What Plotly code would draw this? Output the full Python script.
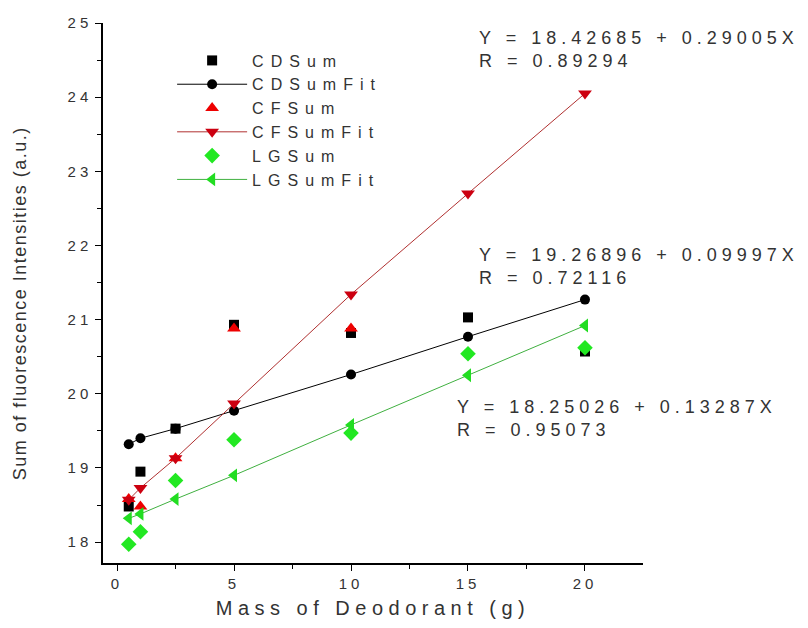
import plotly.graph_objects as go

mass = [0.5, 1, 2.5, 5, 10, 15, 20]

cd_sum = [18.48, 18.95, 19.53, 20.93, 20.82, 21.03, 20.57]
cd_fit = [19.32, 19.40, 19.53, 19.77, 20.26, 20.77, 21.27]

cf_sum = [18.58, 18.48, 19.13, 20.88, 20.88, None, None]
cf_fit = [18.57, 18.73, 19.13, 19.87, 21.34, 22.70, 24.05]

lg_sum = [17.97, 18.14, 18.83, 19.38, 19.47, 20.54, 20.62]
lg_fit = [18.32, 18.38, 18.58, 18.90, 19.58, 20.25, 20.92]

fit_labels = [
    "Y = 18.42685 + 0.29005X<br>R = 0.89294",
    "Y = 19.26896 + 0.09997X<br>R = 0.72116",
    "Y = 18.25026 + 0.13287X<br>R = 0.95073",
]
fit_label_pos = [(15.37, 24.64), (15.37, 21.72), (14.45, 19.66)]

x_title = "Mass of Deodorant (g)"
y_title = "Sum of fluorescence Intensities (a.u.)"

FONT = "Liberation Sans, Arial, sans-serif"

fig = go.Figure()
fig.add_trace(go.Scatter(x=mass, y=cd_sum, name="CDSum", mode="markers",
                         marker=dict(symbol="square", size=10, color="black")))
fig.add_trace(go.Scatter(x=mass, y=cd_fit, name="CDSumFit", mode="lines+markers",
                         line=dict(color="black", width=1),
                         marker=dict(symbol="circle", size=10, color="black")))
fig.add_trace(go.Scatter(x=mass, y=cf_sum, name="CFSum", mode="markers",
                         marker=dict(symbol="triangle-up", size=12, color="#ee0000")))
fig.add_trace(go.Scatter(x=mass, y=cf_fit, name="CFSumFit", mode="lines+markers",
                         line=dict(color="#b03030", width=1),
                         marker=dict(symbol="triangle-down", size=12, color="#cc0010")))
fig.add_trace(go.Scatter(x=mass, y=lg_sum, name="LGSum", mode="markers",
                         marker=dict(symbol="diamond", size=12, color="#22e822")))
fig.add_trace(go.Scatter(x=mass, y=lg_fit, name="LGSumFit", mode="lines+markers",
                         line=dict(color="#40b040", width=1),
                         marker=dict(symbol="triangle-left", size=12, color="#22dd22")))

for txt, (ax, ay) in zip(fit_labels, fit_label_pos):
    fig.add_annotation(x=ax, y=ay, xref="x", yref="y", text=txt, showarrow=False,
                       xanchor="left", yanchor="middle", align="left",
                       font=dict(family=FONT, size=18, color="#333333"))

# y-axis title placed as a rotated annotation to match the reference position
fig.add_annotation(x=-0.1537, y=0.48, xref="paper", yref="paper", text=y_title,
                   showarrow=False, textangle=-90, xanchor="center", yanchor="middle",
                   font=dict(family=FONT, size=18, color="#333333"), name="ytitle")

fig.update_layout(
    width=808, height=628,
    margin=dict(l=103, r=165, t=23, b=63),
    paper_bgcolor="white", plot_bgcolor="white",
    font=dict(family=FONT, color="#333333"),
    showlegend=True,
    legend=dict(x=0.128, y=0.962, xanchor="left", yanchor="top",
                bgcolor="rgba(0,0,0,0)", itemwidth=70,
                font=dict(family=FONT, size=16, color="#333333"),
                tracegroupgap=0),
    xaxis=dict(range=[-0.6, 22.48], tickvals=[0, 5, 10, 15, 20],
               showgrid=False, zeroline=False, showline=True,
               linecolor="black", linewidth=1.5, ticks="outside",
               ticklen=6, tickwidth=1.2, tickcolor="black",
               minor=dict(dtick=2.5, ticks="outside", ticklen=4, tickcolor="black", showgrid=False),
               tickfont=dict(family=FONT, size=15, color="#333333"),
               title=dict(text=x_title, standoff=10,
                          font=dict(family=FONT, size=20, color="#333333"))),
    yaxis=dict(range=[17.718, 25], tickvals=[18, 19, 20, 21, 22, 23, 24, 25],
               showgrid=False, zeroline=False, showline=True,
               linecolor="black", linewidth=1.5, ticks="outside",
               ticklen=6, tickwidth=1.2, tickcolor="black",
               minor=dict(dtick=0.5, ticks="outside", ticklen=4, tickcolor="black", showgrid=False),
               tickfont=dict(family=FONT, size=15, color="#333333")),
)

post = """
function sp(sel, v){document.querySelectorAll(sel).forEach(function(t){t.style.letterSpacing=v;});}
document.querySelectorAll('.legend .scrollbox, .legend').forEach(function(e){e.removeAttribute('clip-path');});
var anns = document.querySelectorAll('.annotation-text');
anns.forEach(function(t){
  var s = t.textContent;
  if (s.indexOf('Sum of') === 0) { t.style.letterSpacing = '1.5px'; }
  else { t.style.letterSpacing = '5px'; }
});
sp('.legendtext','7px');
sp('.xtick text','4px');
sp('.ytick text','4px');
sp('.xtitle','5.5px');
"""

fig.write_html("out.html", post_script=post)
